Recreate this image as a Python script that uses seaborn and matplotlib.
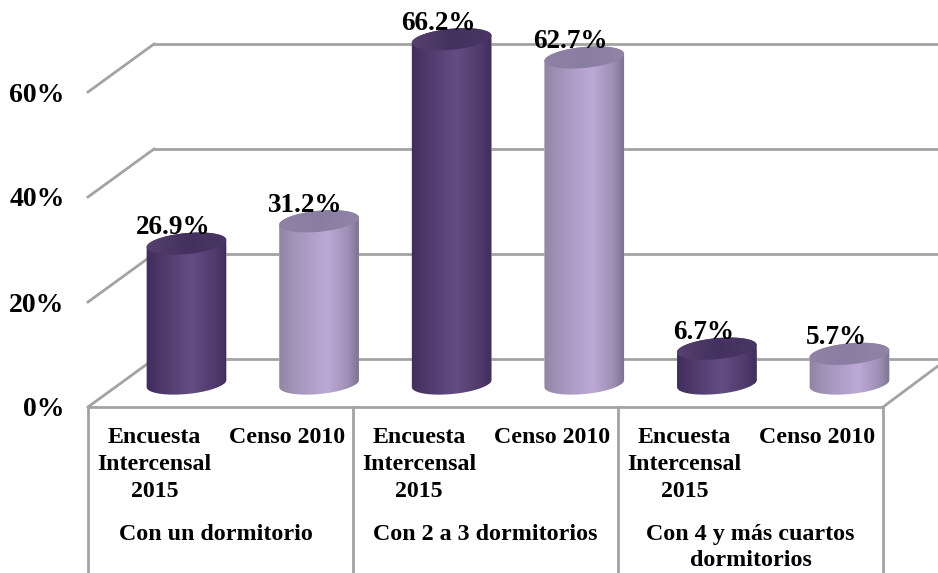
import numpy as np
import pandas as pd
import matplotlib
matplotlib.use("Agg")
import matplotlib.pyplot as plt
import seaborn as sns
from matplotlib.colors import LinearSegmentedColormap
from matplotlib.patches import PathPatch
from matplotlib.path import Path
from matplotlib.transforms import Affine2D

# ---- data ----
groups = ["Con un dormitorio", "Con 2 a 3 dormitorios", "Con 4 y más cuartos\ndormitorios"]
series = ["Encuesta\nIntercensal\n2015", "Censo 2010"]
encuesta = [26.9, 66.2, 6.7]
censo = [31.2, 62.7, 5.7]
axis_ticks = [0, 20, 40, 60]

# ---- layout (pixels of the 938x573 canvas) ----
W, H, DPI = 938, 573, 100
PX_PER_PCT = 5.2
BASE_Y = 383.5
GROUP_W = 265.2
GROUP0_X = 252.75
FRONT_X, BACK_X, RIGHT_X = 88, 154, 883
FRONT_0, BACK_0, GRID_STEP = 407, 359, 105
GREY = "#a3a3a3"
SERIF = "Liberation Serif"
GROUP_LABEL_DX = [-5, 0, 0]

sns.set_theme(style="white")
df = pd.DataFrame({
    "group": groups * 2,
    "series": [series[0]] * 3 + [series[1]] * 3,
    "value": encuesta + censo,
})

fig = plt.figure(figsize=(W / DPI, H / DPI), dpi=DPI)
ax = fig.add_axes([0, 0, 1, 1])
sns.barplot(data=df, x="group", y="value", hue="series", hue_order=series,
            palette=["#55406f", "#b09dc8"], width=1.0, gap=0.4, legend=False,
            errorbar=None, ax=ax, zorder=3)
xlim = ((0 - GROUP0_X) / GROUP_W, (W - GROUP0_X) / GROUP_W)
ylim = ((BASE_Y - H) / PX_PER_PCT, BASE_Y / PX_PER_PCT)
ax.set_xlim(xlim)
ax.set_ylim(ylim)
ax.axis("off")

px = Affine2D().scale(1, -1).translate(0, H)   # canvas pixels, y downward


def wall(xs, ys):
    ax.plot(xs, ys, color=GREY, lw=2.0, transform=px, zorder=1,
            solid_capstyle="projecting", clip_on=False)


for t in axis_ticks:
    k = t / 20
    yf, yb = FRONT_0 - GRID_STEP * k, BACK_0 - GRID_STEP * k
    wall([FRONT_X, BACK_X], [yf, yb])
    wall([BACK_X, W], [yb, yb])
    ax.text(64.5, yf + 3, f"{t}%", transform=px, ha="right", va="center",
            family=SERIF, weight="bold", fontsize=20, color="black")
wall([FRONT_X, RIGHT_X], [FRONT_0, FRONT_0])
wall([RIGHT_X, W], [FRONT_0, 366])
for i in range(4):
    x = FRONT_X + i * (RIGHT_X - FRONT_X) / 3
    wall([x, x], [FRONT_0, H])

# ---- cylinders built on the seaborn bars ----
THETA = np.radians(5.5)
A, B = 40.0, 10.5


def ring(xc, yc, t):
    dx = A * np.cos(t) * np.cos(THETA) - B * np.sin(t) * np.sin(THETA)
    dy = A * np.cos(t) * np.sin(THETA) + B * np.sin(t) * np.cos(THETA)
    return np.c_[xc + dx / GROUP_W, yc + dy / PX_PER_PCT]


body_maps = [
    LinearSegmentedColormap.from_list("d", [(0, "#402d5c"), (.18, "#4d3869"), (.55, "#654d83"),
                                            (.85, "#4f3a6b"), (1, "#3f2d59")]),
    LinearSegmentedColormap.from_list("l", [(0, "#8f84a3"), (.2, "#a294b9"), (.6, "#bda9d7"),
                                            (.85, "#9f91b5"), (1, "#7b7090")]),
]
top_maps = [
    LinearSegmentedColormap.from_list("dt", ["#56416f", "#44315f", "#4a3665"]),
    LinearSegmentedColormap.from_list("lt", ["#8e82a6", "#8a7da2", "#9084a8"]),
]
grad = np.linspace(0, 1, 256).reshape(1, -1)
values = encuesta + censo
for n, patch in enumerate(ax.patches):
    s = n // 3
    xc = patch.get_x() + patch.get_width() / 2
    h = patch.get_height()
    # in data units y points up, so the lower rim uses t in (pi, 2pi)
    low = ring(xc, 0, np.linspace(np.pi, 2 * np.pi, 60))
    up = ring(xc, h, np.linspace(0, np.pi, 60))
    body = Path(np.vstack([low, up, low[:1]]), closed=True)
    body_patch = PathPatch(body, transform=ax.transData, fc="none", ec="none")
    ax.add_patch(body_patch)
    patch.set_clip_path(body_patch)
    x0, x1 = xc - 1.02 * A / GROUP_W, xc + 1.02 * A / GROUP_W
    im = ax.imshow(grad, cmap=body_maps[s], extent=(x0, x1, -3, h + 3), aspect="auto",
                   zorder=3.2, interpolation="bilinear")
    im.set_clip_path(body_patch)

    top = Path(ring(xc, h, np.linspace(0, 2 * np.pi, 120)), closed=True)
    top_patch = PathPatch(top, transform=ax.transData, fc="none", ec="none")
    ax.add_patch(top_patch)
    im2 = ax.imshow(grad, cmap=top_maps[s], extent=(x0, x1, h - 3, h + 3), aspect="auto",
                    zorder=3.4, interpolation="bilinear")
    im2.set_clip_path(top_patch)

    ax.annotate(f"{values[n]:.1f}%", (xc, h), xytext=(-13.5, 16), textcoords="offset pixels",
                ha="center", va="center", family=SERIF, weight="bold", fontsize=19.5,
                color="black", zorder=5)
ax.set_xlim(xlim)
ax.set_ylim(ylim)

# ---- category labels ----
cell = (RIGHT_X - FRONT_X) / 3
for g, name in enumerate(groups):
    for s, lab in enumerate(series):
        x = FRONT_X + g * cell + cell * (0.25 + 0.5 * s)
        ax.text(x, 427, lab, transform=px, ha="center", va="top", family=SERIF,
                weight="bold", fontsize=17.2, color="black", linespacing=1.36)
    ax.text(FRONT_X + (g + 0.5) * cell + GROUP_LABEL_DX[g], 524, name, transform=px,
            ha="center", va="top", family=SERIF, weight="bold", fontsize=17.3,
            color="black", linespacing=1.32)

fig.savefig("out.png", dpi=DPI)
